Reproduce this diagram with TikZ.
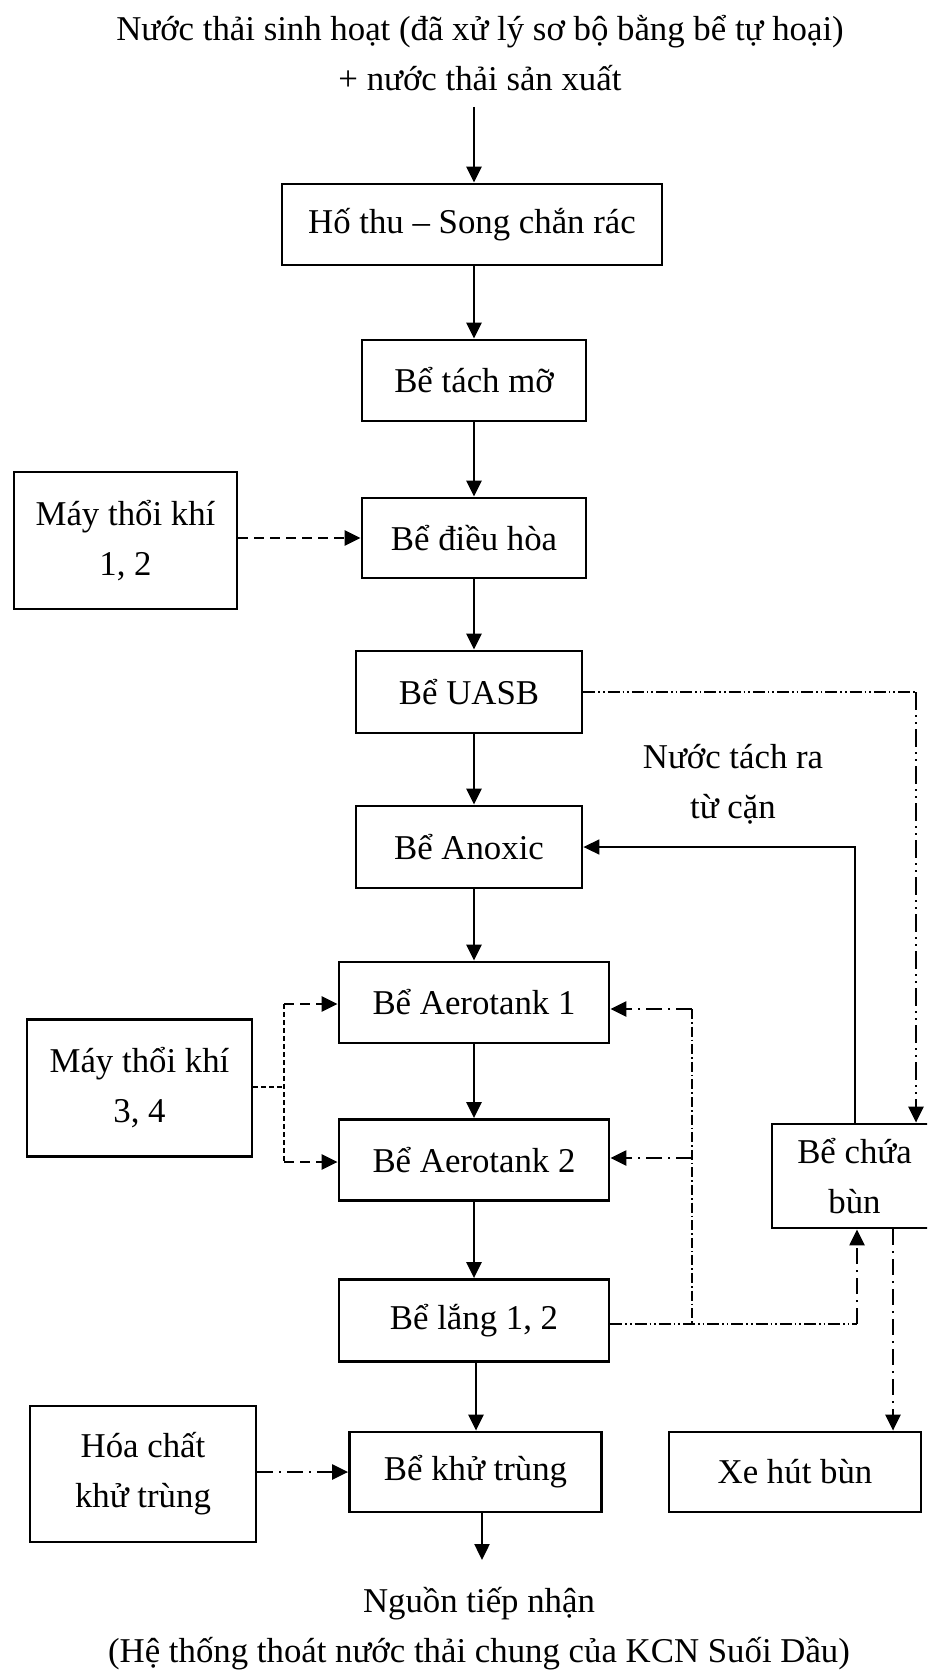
\documentclass[tikz,border=0pt]{standalone}
\usepackage{fontspec}
\setmainfont{Liberation Serif}
\usetikzlibrary{arrows.meta}
\begin{document}
\begin{tikzpicture}[x=0.5pt,y=-0.5pt,
  every node/.style={font=\fontsize{17.4}{25}\selectfont},
  box/.style={draw,line width=1.4pt,align=center,inner sep=0pt},
  arr/.style={-{Triangle[length=8pt,width=7.5pt]}},
  flow/.style={arr,line width=1.2pt},
  thinflow/.style={arr,line width=0.8pt},
  dashA/.style={line width=1.2pt,dash pattern=on 5pt off 3pt},
  thindash/.style={line width=0.6pt,dash pattern=on 2.5pt off 1.5pt},
  ddthin/.style={line width=0.6pt,dash pattern=on 6pt off 1.5pt on 0.8pt off 1.5pt on 0.8pt off 1.5pt},
  ddthick/.style={line width=1.2pt,dash pattern=on 9pt off 2.5pt on 1pt off 2.5pt on 1pt off 2.5pt},
  dthin/.style={line width=0.6pt,dash pattern=on 5pt off 1.5pt on 0.8pt off 1.5pt},
  dthick/.style={line width=1.2pt,dash pattern=on 8pt off 3pt on 1pt off 3pt}
]
\useasboundingbox (0,0) rectangle (927,1674);
\clip (0,0) rectangle (927,1674);

% title and bottom texts
\node[align=center] (title) at (480,53) {Nước thải sinh hoạt (đã xử lý sơ bộ bằng bể tự hoại)\\+ nước thải sản xuất};
\node[align=center] (dest) at (479,1629) {Nguồn tiếp nhận\\(Hệ thống thoát nước thải chung của KCN Suối Dầu)};
\node[align=center] (lbl) at (733,784) {Nước tách ra\\từ cặn};

% boxes
\node[box,minimum width=190pt,minimum height=40.5pt] (hothu) at (472,224.5) {Hố thu – Song chắn rác};
\node[box,minimum width=112pt,minimum height=40.5pt] (tachmo) at (474,380.5) {Bể tách mỡ};
\node[box,minimum width=112pt,minimum height=40pt] (dieuhoa) at (474,538) {Bể điều hòa};
\node[box,minimum width=111.5pt,minimum height=68.5pt] (may12) at (125.5,540.5) {Máy thổi khí\\1, 2};
\node[box,minimum width=113pt,minimum height=41pt] (uasb) at (469,692) {Bể UASB};
\node[box,minimum width=113pt,minimum height=41pt] (anoxic) at (469,847) {Bể Anoxic};
\node[box,minimum width=135pt,minimum height=40.5pt] (aero1) at (474,1002.5) {Bể Aerotank 1};
\node[box,minimum width=135pt,minimum height=40.5pt] (aero2) at (474,1160) {Bể Aerotank 2};
\node[box,minimum width=112.5pt,minimum height=68.5pt] (may34) at (139.5,1088) {Máy thổi khí\\3, 4};
\node[box,minimum width=135pt,minimum height=41pt] (lang) at (474,1320.5) {Bể lắng 1, 2};
\node[box,minimum width=126pt,minimum height=40pt] (khutrung) at (475.5,1472) {Bể khử trùng};
\node[box,minimum width=113pt,minimum height=68pt] (hoachat) at (143,1474) {Hóa chất\\khử trùng};
\node[box,minimum width=82.5pt,minimum height=52pt] (chuabun) at (854.5,1176) {Bể chứa\\bùn};
\node[box,minimum width=126pt,minimum height=40pt] (xehut) at (795,1472) {Xe hút bùn};

% coordinates
\coordinate (col) at (474,0);
\coordinate (tin) at (474,107);
\coordinate (out) at (482,1560);
\coordinate (j34) at (284,1087);
\coordinate (j34a) at (284,1004);
\coordinate (j34b) at (284,1162);
\coordinate (u1) at (916,692);
\coordinate (n1) at (855,847);
\coordinate (l1) at (857,1324);
\coordinate (v1) at (692,1009);
\coordinate (v2) at (692,1158);
\coordinate (v3) at (692,1324);
\coordinate (c1) at (893,0);
\coordinate (k1) at (476,0);

% main flow
\draw[flow] (tin) -- (tin |- hothu.north);
\draw[flow] (hothu.south -| col) -- (tachmo.north -| col);
\draw[flow] (tachmo.south -| col) -- (dieuhoa.north -| col);
\draw[flow] (dieuhoa.south -| col) -- (uasb.north -| col);
\draw[flow] (uasb.south -| col) -- (anoxic.north -| col);
\draw[flow] (anoxic.south -| col) -- (aero1.north -| col);
\draw[flow] (aero1.south -| col) -- (aero2.north -| col);
\draw[flow] (aero2.south -| col) -- (lang.north -| col);
\draw[flow] (lang.south -| k1) -- (khutrung.north -| k1);
\draw[flow] (khutrung.south -| out) -- (out);

% blowers
\draw[dashA,arr] (may12.east |- dieuhoa.west) -- (dieuhoa.west);
\draw[thindash] (may34.east |- j34) -- (j34);
\draw[thindash] (j34a) -- (j34b);
\draw[dashA,arr] (j34a) -- (j34a -| aero1.west);
\draw[dashA,arr] (j34b) -- (j34b -| aero2.west);

% sludge lines
\draw[ddthin] (uasb.east) -- (u1);
\draw[ddthick,arr] (u1) -- (u1 |- chuabun.north);
\draw[thinflow] (chuabun.north -| n1) -- (n1) -- (anoxic.east);
\draw[ddthin] (lang.east |- l1) -- (l1);
\draw[dthick,arr] (l1) -- (l1 |- chuabun.south);
\draw[dthin] (v1) -- (v3);
\draw[dthick,arr] (v1) -- (v1 -| aero1.east);
\draw[dthick,arr] (v2) -- (v2 -| aero2.east);
\draw[dthick,arr] (chuabun.south -| c1) -- (xehut.north -| c1);
\draw[dthick,arr] (hoachat.east |- khutrung.west) -- (khutrung.west);
\end{tikzpicture}
\end{document}
